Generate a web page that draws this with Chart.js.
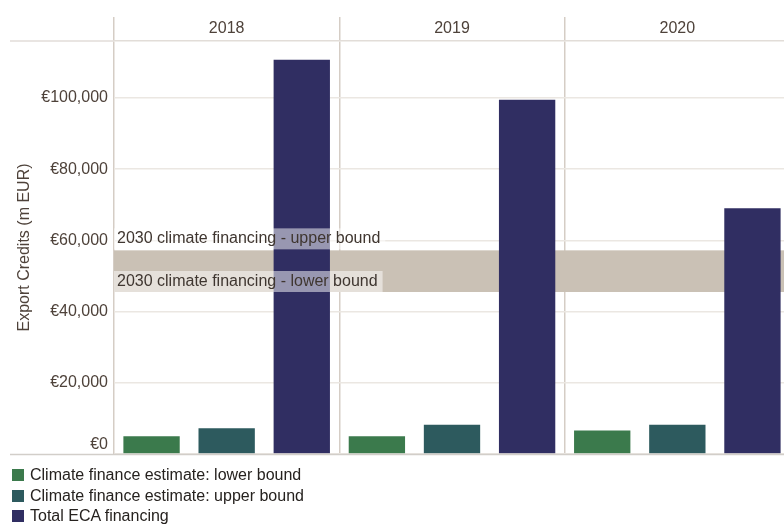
<!DOCTYPE html>
<html>
<head>
<meta charset="utf-8">
<script src="https://cdn.jsdelivr.net/npm/chart.js@4.4.1/dist/chart.umd.min.js"></script>
<style>
  html, body { margin: 0; padding: 0; background: #ffffff; overflow: hidden; width: 784px; height: 528px; }
  #wrap { position: relative; width: 784px; height: 528px; overflow: hidden; }
  canvas { position: absolute; left: 0; top: 0; }
  #legend { position: absolute; left: 12px; top: 465px; font-family: "Liberation Sans", Arial, sans-serif; font-size: 16px; color: #26221f; }
  .row { display: flex; align-items: center; height: 20.5px; white-space: nowrap; }
  .sw { width: 12px; height: 12px; margin-right: 6px; flex: none; }
</style>
</head>
<body>
<div id="wrap">
  <canvas id="c" width="800" height="528"></canvas>
  <div id="legend"></div>
</div>
<script>
// ---- data ----
const categories = ['2018', '2019', '2020'];
const seriesNames = ['Climate finance estimate: lower bound', 'Climate finance estimate: upper bound', 'Total ECA financing'];
const lowerBound = [5000, 5000, 6600];
const upperBound = [7200, 8200, 8200];
const totalECA = [110700, 99500, 69000];
const band2030 = [45500, 57200]; // 2030 climate financing lower / upper bound
const bandLabels = ['2030 climate financing - upper bound', '2030 climate financing - lower bound'];
const yTicks = [0, 20000, 40000, 60000, 80000, 100000];

const colors = ['#3b7a4c', '#2d5a5e', '#302e62'];
const textColor = '#4e423a';
const FONT = '"Liberation Sans", Arial, sans-serif';
const fmt = v => '€' + Number(v).toLocaleString('en-US');

const bandPlugin = {
  id: 'bandPlugin',
  beforeDatasetsDraw(chart) {
    const { ctx, chartArea, scales } = chart;
    const yLo = scales.y.getPixelForValue(band2030[0]);
    const yHi = scales.y.getPixelForValue(band2030[1]);
    ctx.save();
    ctx.fillStyle = '#cac1b5';
    ctx.fillRect(chartArea.left, yHi, chartArea.right - chartArea.left, yLo - yHi);
    ctx.restore();
  },
  afterDatasetsDraw(chart) {
    const { ctx, chartArea, scales } = chart;
    const yLo = scales.y.getPixelForValue(band2030[0]);
    const yHi = scales.y.getPixelForValue(band2030[1]);
    ctx.save();
    ctx.font = '16px ' + FONT;
    ctx.textBaseline = 'middle';
    const x0 = chartArea.left;
    // upper label (above the band)
    let w = ctx.measureText(bandLabels[0]).width + 8;
    ctx.fillStyle = 'rgba(255,255,255,0.5)';
    ctx.fillRect(x0, yHi - 22, w, 21);
    ctx.fillStyle = '#3f3630';
    ctx.fillText(bandLabels[0], x0 + 3, yHi - 11.5);
    // lower label (inside the band)
    w = ctx.measureText(bandLabels[1]).width + 8;
    ctx.fillStyle = 'rgba(255,255,255,0.5)';
    ctx.fillRect(x0, yLo - 21, w, 21);
    ctx.fillStyle = '#3f3630';
    ctx.fillText(bandLabels[1], x0 + 3, yLo - 10.5);
    // bottom axis line
    ctx.strokeStyle = '#d2cec9';
    ctx.lineWidth = 1.5;
    ctx.beginPath();
    ctx.moveTo(10, chartArea.bottom + 0.5);
    ctx.lineTo(chart.width, chartArea.bottom + 0.5);
    ctx.stroke();
    // header line extension
    ctx.strokeStyle = '#e2ddd8';
    ctx.lineWidth = 1.5;
    ctx.beginPath();
    ctx.moveTo(10, chartArea.top);
    ctx.lineTo(chartArea.left, chartArea.top);
    ctx.stroke();
    // zero tick label, lifted so it stays above the baseline (as in the original)
    ctx.font = '16px ' + FONT;
    ctx.fillStyle = textColor;
    ctx.textAlign = 'right';
    ctx.textBaseline = 'middle';
    ctx.fillText(fmt(yTicks[0]), scales.y.right - 6, scales.y.getPixelForValue(yTicks[0]) - 9);
    ctx.restore();
  }
};

const chart = new Chart(document.getElementById('c'), {
  type: 'bar',
  data: {
    labels: categories,
    datasets: [
      { label: seriesNames[0], data: lowerBound, backgroundColor: colors[0] },
      { label: seriesNames[1], data: upperBound, backgroundColor: colors[1] },
      { label: seriesNames[2], data: totalECA, backgroundColor: colors[2] }
    ]
  },
  options: {
    responsive: false,
    animation: false,
    devicePixelRatio: 1,
    datasets: { bar: { barPercentage: 0.75, categoryPercentage: 1.0 } },
    layout: { padding: { left: 0, right: 10, top: 0, bottom: 74 } },
    plugins: { legend: { display: false }, tooltip: { enabled: false } },
    scales: {
      x: {
        position: 'top',
        offset: true,
        grid: { offset: true, color: '#d5cdc5', lineWidth: 1.5, drawTicks: true, tickLength: 24 },
        border: { display: true, color: '#e2ddd8', width: 1.5 },
        ticks: { font: { size: 16, family: FONT }, color: textColor, padding: -21, maxRotation: 0 },
        afterFit(s) { s.height = 41; }
      },
      y: {
        min: 0,
        max: 116000,
        afterBuildTicks(s) { s.ticks = yTicks.map(v => ({ value: v })); },
        ticks: {
          font: { size: 16, family: FONT },
          color: textColor,
          padding: 6,
          callback: v => (v === yTicks[0] ? '' : fmt(v))
        },
        grid: { color: '#ebe7e2', lineWidth: 1.5, drawTicks: false },
        border: { display: false },
        title: {
          display: true,
          text: 'Export Credits (m EUR)',
          font: { size: 16, family: FONT },
          color: textColor,
          padding: { top: 15, bottom: 0 }
        },
        afterFit(s) { s.width = 114; }
      }
    }
  },
  plugins: [bandPlugin]
});

// HTML legend built from the chart's datasets
const leg = document.getElementById('legend');
chart.data.datasets.forEach(ds => {
  const row = document.createElement('div');
  row.className = 'row';
  const sw = document.createElement('span');
  sw.className = 'sw';
  sw.style.background = ds.backgroundColor;
  const tx = document.createElement('span');
  tx.textContent = ds.label;
  row.appendChild(sw);
  row.appendChild(tx);
  leg.appendChild(row);
});
</script>
</body>
</html>
